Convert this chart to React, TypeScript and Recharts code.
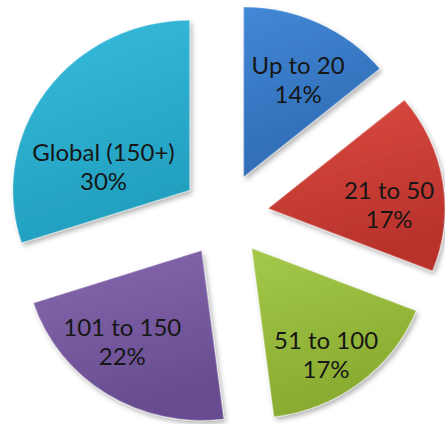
import React from "react";
import { PieChart, Pie, Cell, Sector } from "recharts";

const CATEGORIES = ["Up to 20", "21 to 50", "51 to 100", "101 to 150", "Global (150+)"];
const SHARES = [14, 17, 17, 22, 30];

const COLORS = [
  ["#4288d6", "#2e6ab3"],
  ["#dc4b42", "#b8322b"],
  ["#a4c94a", "#88aa2f"],
  ["#8768b0", "#674c90"],
  ["#38bcdd", "#219fbf"],
];

// where each label sits relative to its default spot
const LABEL_NUDGE = [
  [5, 10],
  [6, 15],
  [3, 14],
  [-17, -8],
  [8, 46],
];

const EXPLODE = 42;
const STRETCH_X = 1.04;
const RAD = Math.PI / 180;

const data = CATEGORIES.map((name, i) => ({ name, value: SHARES[i] }));

function ExplodedSector(props: any) {
  const dx = EXPLODE * Math.cos(-props.midAngle * RAD);
  const dy = EXPLODE * Math.sin(-props.midAngle * RAD);
  const { cx, cy } = props;
  return (
    <g transform={`translate(${cx} ${cy}) scale(${STRETCH_X} 1) translate(${-cx} ${-cy})`}>
      <Sector
        {...props}
        cx={cx + dx}
        cy={cy + dy}
        stroke="rgba(255,255,255,0.25)"
        strokeWidth={1.5}
        filter="url(#shadow)"
      />
    </g>
  );
}

function renderLabel(props: any) {
  const { cx, cy, midAngle, index, percent } = props;
  const r = 160;
  const x = cx + r * Math.cos(-midAngle * RAD) + LABEL_NUDGE[index][0];
  const y = cy + r * Math.sin(-midAngle * RAD) + LABEL_NUDGE[index][1];
  return (
    <text
      x={x}
      y={y}
      textAnchor="middle"
      fill="#161616"
      fontFamily="Lato, 'Open Sans', sans-serif"
      fontSize={24}
    >
      <tspan x={x} y={y - 6}>
        {CATEGORIES[index]}
      </tspan>
      <tspan x={x} y={y + 23}>
        {Math.round(percent * 100)}%
      </tspan>
    </text>
  );
}

export default function App() {
  return (
    <div style={{ position: "fixed", left: 0, top: 0, background: "#fff" }}>
      <PieChart width={445} height={424} margin={{ top: 0, right: 0, bottom: 0, left: 0 }}>
        <defs>
          {COLORS.map((c, i) => (
            <linearGradient key={i} id={`g${i}`} x1="0" y1="0" x2="0.3" y2="1">
              <stop offset="0%" stopColor={c[0]} />
              <stop offset="100%" stopColor={c[1]} />
            </linearGradient>
          ))}
          <filter id="shadow" x="-20%" y="-20%" width="140%" height="140%">
            <feDropShadow dx="2" dy="3" stdDeviation="2.5" floodColor="#000" floodOpacity="0.3" />
          </filter>
        </defs>
        <Pie
          data={data}
          dataKey="value"
          nameKey="name"
          cx={225}
          cy={215}
          outerRadius={170}
          startAngle={90}
          endAngle={-270}
          activeShape={ExplodedSector}
          inactiveShape={ExplodedSector}
          shape={ExplodedSector}
          label={renderLabel}
          labelLine={false}
          stroke="none"
          isAnimationActive={false}
        >
          {data.map((_, i) => (
            <Cell key={i} fill={`url(#g${i})`} />
          ))}
        </Pie>
      </PieChart>
    </div>
  );
}
